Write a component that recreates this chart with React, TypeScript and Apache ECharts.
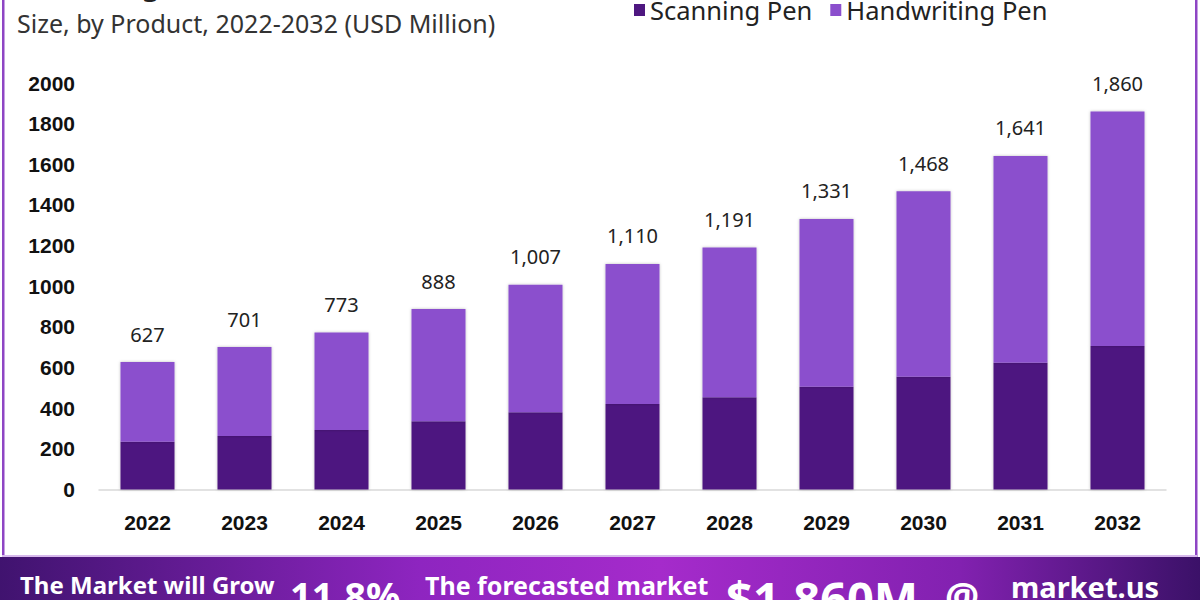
import React, { useEffect, useRef } from "react";
import * as echarts from "echarts";

const years = ["2022", "2023", "2024", "2025", "2026", "2027", "2028", "2029", "2030", "2031", "2032"];
const totals = [627, 701, 773, 888, 1007, 1110, 1191, 1331, 1468, 1641, 1860];
const scanningPen = [235, 263, 293, 336, 380, 421, 454, 506, 555, 624, 706];
const handwritingPen = totals.map((t, i) => t - scanningPen[i]);
const yTicks = { min: 0, max: 2000, interval: 200 };

const DARK = "#4e1780";
const LIGHT = "#8b4fcd";

export default function App() {
  const ref = useRef<HTMLDivElement>(null);
  useEffect(() => {
    const chart = echarts.init(ref.current!, null, { renderer: "svg" });
    chart.setOption({
      animation: false,
      backgroundColor: "#ffffff",
      grid: { left: 99, right: 34, top: 83, bottom: 110.5, containLabel: false },
      legend: {
        left: 629,
        top: -8,
        itemWidth: 11,
        itemHeight: 12,
        itemGap: 18,
        icon: "rect",
        textStyle: { fontFamily: "Noto Sans", fontSize: 25.5, color: "#222" },
        data: ["Scanning Pen", "Handwriting Pen"],
      },
      xAxis: {
        type: "category",
        data: years,
        axisLine: { lineStyle: { color: "#d9d9d9", width: 1.5 } },
        axisTick: { show: false },
        axisLabel: {
          margin: 22,
          fontFamily: "Liberation Sans",
          fontWeight: "bold",
          fontSize: 21,
          color: "#111",
        },
      },
      yAxis: {
        type: "value",
        min: yTicks.min,
        max: yTicks.max,
        interval: yTicks.interval,
        splitLine: { show: false },
        axisLine: { show: false },
        axisTick: { show: false },
        axisLabel: {
          margin: 24,
          fontFamily: "Liberation Sans",
          fontWeight: "bold",
          fontSize: 21,
          color: "#111",
          formatter: (v: number) => String(v),
        },
      },
      series: [
        {
          name: "Scanning Pen",
          type: "bar",
          stack: "total",
          barWidth: 54,
          data: scanningPen,
          itemStyle: { color: DARK, shadowBlur: 3, shadowColor: "rgba(0,0,0,0.25)" },
        },
        {
          name: "Handwriting Pen",
          type: "bar",
          stack: "total",
          barWidth: 54,
          data: handwritingPen,
          itemStyle: { color: LIGHT, shadowBlur: 3, shadowColor: "rgba(0,0,0,0.25)" },
          label: {
            show: true,
            position: "top",
            distance: 18,
            fontFamily: "Noto Sans",
            fontSize: 20,
            color: "#222",
            formatter: (p: any) => totals[p.dataIndex].toLocaleString("en-US"),
          },
        },
      ],
      graphic: [
        {
          type: "text",
          left: 17,
          top: -30,
          style: {
            text: "Global Digital Pen Market",
            font: "bold 28px 'Noto Sans'",
            fill: "#222",
          },
        },
        {
          type: "text",
          left: 17,
          top: 10,
          style: {
            text: "Size, by Product, 2022-2032 (USD Million)",
            font: "25px 'Noto Sans'",
            fill: "#333",
          },
        },
        { type: "rect", shape: { x: 2, y: 0, width: 2.5, height: 557 }, style: { fill: "#8e45c4" } },
        { type: "rect", shape: { x: 1195, y: 0, width: 2.5, height: 557 }, style: { fill: "#8e45c4" } },
        { type: "rect", shape: { x: 2, y: 555, width: 1195, height: 2 }, style: { fill: "#d7b9ec" } },
        {
          type: "rect",
          shape: { x: 0, y: 557, width: 1200, height: 43 },
          style: {
            fill: new echarts.graphic.LinearGradient(0, 0, 1, 0, [
              { offset: 0, color: "#40136f" },
              { offset: 0.35, color: "#8e25c0" },
              { offset: 0.55, color: "#a52bcb" },
              { offset: 0.8, color: "#8221b0" },
              { offset: 1, color: "#3b1168" },
            ]),
          },
        },
        {
          type: "text",
          left: 20,
          top: 572,
          style: { text: "The Market will Grow", font: "bold 24px 'Noto Sans'", fill: "#ffffff" },
        },
        {
          type: "text",
          left: 290,
          top: 576,
          style: { text: "11.8%", font: "bold 38px 'Noto Sans'", fill: "#ffffff" },
        },
        {
          type: "text",
          left: 425,
          top: 572,
          style: { text: "The forecasted market", font: "bold 25px 'Noto Sans'", fill: "#ffffff" },
        },
        {
          type: "text",
          left: 726,
          top: 574,
          style: { text: "$1,860M", font: "bold 47px 'Noto Sans'", fill: "#ffffff" },
        },
        {
          type: "text",
          left: 945,
          top: 576,
          style: { text: "@", font: "bold 38px 'Noto Sans'", fill: "#ffffff" },
        },
        {
          type: "text",
          left: 1011,
          top: 572,
          style: { text: "market.us", font: "bold 29px 'Noto Sans'", fill: "#ffffff" },
        },
      ],
    });
    return () => chart.dispose();
  }, []);
  return (
    <div style={{ position: "fixed", left: 0, top: 0, width: 1200, height: 600 }}>
      <div ref={ref} style={{ width: 1200, height: 600 }} />
    </div>
  );
}
